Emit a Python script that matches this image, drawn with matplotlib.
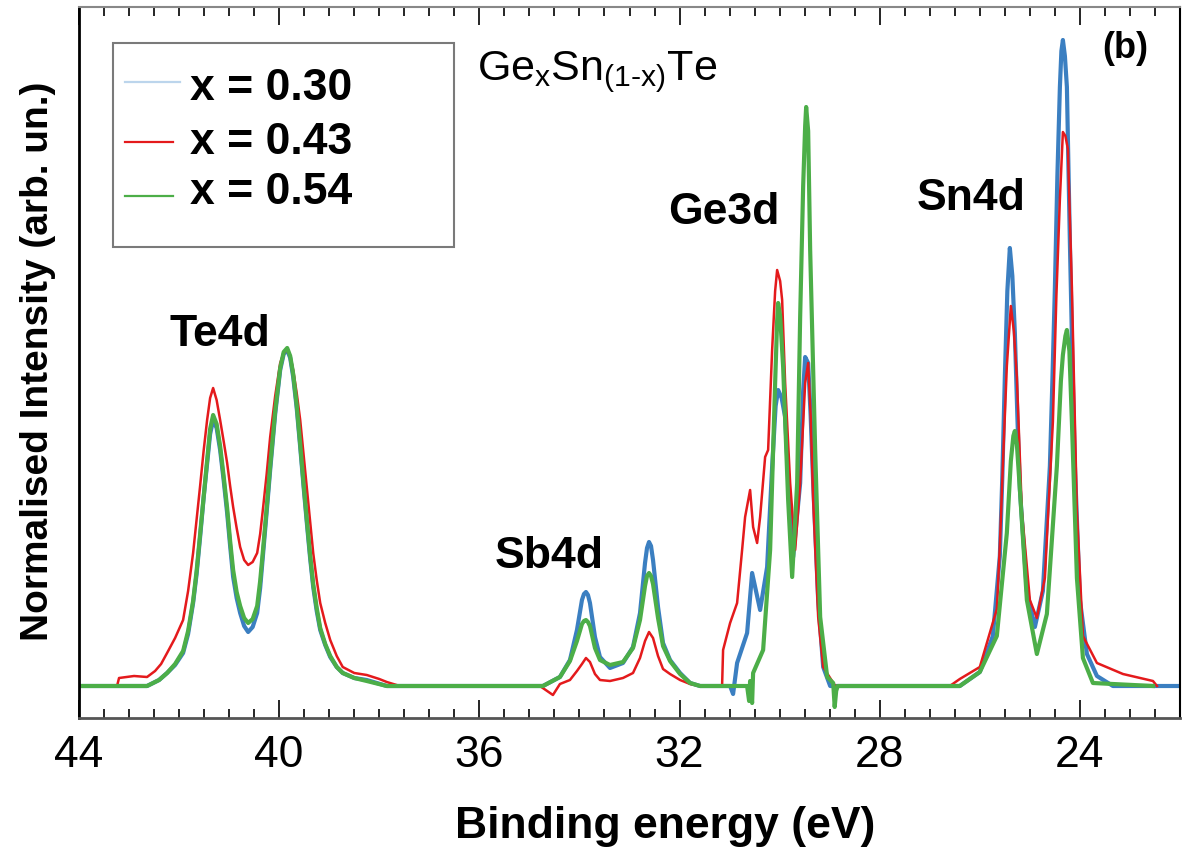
import matplotlib
matplotlib.use('Agg')
import matplotlib.pyplot as plt
from matplotlib.ticker import MultipleLocator
from matplotlib.patches import Rectangle
from matplotlib.lines import Line2D
import numpy as np

plt.rcParams['font.family'] = ['Liberation Sans', 'DejaVu Sans']
plt.rcParams['mathtext.fontset'] = 'custom'
plt.rcParams['mathtext.rm'] = 'Liberation Sans'
plt.rcParams['mathtext.it'] = 'Liberation Sans:italic'
plt.rcParams['mathtext.bf'] = 'Liberation Sans:bold'

# binding energy (eV) / normalised intensity
e_blue = [44.00, 42.64, 42.40, 42.24, 42.08, 41.92, 41.82, 41.72, 41.65, 41.58, 41.51, 41.44,
          41.38, 41.32, 41.25, 41.18, 41.11, 41.04, 40.98, 40.92, 40.85, 40.78, 40.70, 40.62,
          40.53, 40.44, 40.38, 40.32, 40.25, 40.18, 40.08, 39.98, 39.91, 39.84, 39.78, 39.72,
          39.65, 39.58, 39.51, 39.44, 39.38, 39.32, 39.25, 39.18, 39.08, 38.98, 38.85, 38.73,
          38.50, 38.25, 37.85,
          34.73, 34.39, 34.19, 34.05, 33.95, 33.91, 33.87, 33.83, 33.79, 33.69, 33.59, 33.39,
          33.13, 32.93, 32.79, 32.69, 32.65, 32.61, 32.57, 32.53, 32.43, 32.33, 32.19, 31.99,
          31.79, 31.59,
          30.99, 30.93, 30.85, 30.65, 30.55, 30.39, 30.25, 30.15, 30.08, 30.03, 29.96, 29.89,
          29.79, 29.73, 29.59, 29.53, 29.49, 29.43, 29.38, 29.33, 29.23, 29.13, 28.99,
          26.40, 26.00, 25.74, 25.60, 25.55, 25.50, 25.45, 25.40, 25.35, 25.30, 25.25, 25.20,
          25.06, 24.90, 24.74, 24.60, 24.55, 24.50, 24.45, 24.40, 24.37, 24.34, 24.30, 24.26,
          24.20, 24.15, 24.10, 24.00, 23.86, 23.66, 23.34, 22.00]
i_blue = [0.00, 0.00, 0.06, 0.13, 0.21, 0.33, 0.52, 0.83, 1.12, 1.49, 1.88, 2.23,
          2.52, 2.66, 2.58, 2.36, 2.06, 1.73, 1.40, 1.09, 0.88, 0.73, 0.60, 0.54,
          0.59, 0.73, 0.98, 1.33, 1.74, 2.16, 2.72, 3.16, 3.32, 3.36, 3.28, 3.09,
          2.78, 2.39, 1.98, 1.59, 1.27, 0.99, 0.75, 0.56, 0.41, 0.29, 0.19, 0.13,
          0.08, 0.06, 0.00,
          0.00, 0.09, 0.26, 0.56, 0.86, 0.92, 0.94, 0.91, 0.83, 0.49, 0.29, 0.18,
          0.23, 0.39, 0.73, 1.23, 1.38, 1.44, 1.40, 1.26, 0.79, 0.43, 0.26, 0.13,
          0.03, 0.00,
          0.00, -0.08, 0.23, 0.53, 1.13, 0.76, 1.19, 2.19, 2.80, 2.96, 2.88, 2.69,
          1.69, 1.29, 2.03, 2.95, 3.29, 3.23, 2.70, 2.03, 0.86, 0.19, 0.00,
          0.00, 0.14, 0.50, 1.30, 2.10, 3.09, 3.95, 4.38, 4.10, 3.53, 2.70, 1.97,
          0.95, 0.59, 0.95, 2.20, 3.05, 3.98, 5.10, 5.99, 6.35, 6.46, 6.30, 5.99,
          4.43, 3.25, 2.20, 0.86, 0.32, 0.10, 0.00, 0.00]

e_red = [44.00, 43.24, 43.20, 42.90, 42.64, 42.48, 42.36, 42.24, 42.08, 41.92, 41.82, 41.72,
         41.65, 41.58, 41.51, 41.44, 41.38, 41.32, 41.25, 41.18, 41.11, 41.04, 40.98, 40.92,
         40.85, 40.78, 40.70, 40.62, 40.53, 40.44, 40.38, 40.32, 40.25, 40.18, 40.08, 39.98,
         39.91, 39.84, 39.78, 39.72, 39.65, 39.58, 39.51, 39.44, 39.38, 39.32, 39.25, 39.18,
         39.08, 38.98, 38.85, 38.73, 38.50, 38.25, 38.00, 37.85, 37.59,
         34.79, 34.53, 34.39, 34.19, 34.05, 33.95, 33.87, 33.79, 33.69, 33.59, 33.39, 33.13,
         32.93, 32.79, 32.69, 32.61, 32.53, 32.43, 32.33, 32.19, 31.99, 31.79, 31.59,
         31.15, 31.13, 30.99, 30.85, 30.75, 30.69, 30.59, 30.53, 30.45, 30.39, 30.29, 30.23,
         30.15, 30.09, 30.05, 29.99, 29.95, 29.89, 29.79, 29.69, 29.59, 29.49, 29.43, 29.38,
         29.33, 29.23, 29.13, 28.89,
         26.60, 26.40, 26.00, 25.66, 25.60, 25.54, 25.46, 25.38, 25.32, 25.26, 25.16, 25.00,
         24.86, 24.70, 24.54, 24.47, 24.40, 24.34, 24.29, 24.24, 24.16, 24.06, 23.94, 23.66,
         23.14, 22.54, 22.46]
i_red = [0.00, 0.00, 0.08, 0.10, 0.09, 0.15, 0.22, 0.33, 0.48, 0.66, 0.95, 1.33,
         1.66, 2.00, 2.35, 2.66, 2.88, 2.98, 2.86, 2.66, 2.45, 2.23, 2.00, 1.79,
         1.58, 1.39, 1.26, 1.21, 1.24, 1.33, 1.52, 1.79, 2.12, 2.49, 2.90, 3.23,
         3.33, 3.36, 3.30, 3.16, 2.93, 2.66, 2.30, 1.93, 1.62, 1.33, 1.06, 0.83,
         0.63, 0.46, 0.30, 0.19, 0.13, 0.11, 0.07, 0.04, 0.00,
         0.00, -0.09, 0.02, 0.06, 0.15, 0.22, 0.28, 0.24, 0.12, 0.06, 0.05, 0.08,
         0.13, 0.28, 0.45, 0.54, 0.48, 0.30, 0.17, 0.12, 0.06, 0.02, 0.00,
         0.00, 0.36, 0.63, 0.83, 1.36, 1.69, 1.96, 1.59, 1.43, 1.69, 2.29, 2.36,
         3.36, 3.95, 4.16, 4.05, 3.86, 3.03, 2.03, 1.36, 2.03, 3.03, 3.23, 2.70,
         1.86, 0.69, 0.19, 0.00,
         0.00, 0.07, 0.19, 0.77, 1.40, 2.20, 3.20, 3.80, 3.55, 3.09, 1.75, 0.86,
         0.68, 1.08, 2.64, 3.90, 4.87, 5.54, 5.50, 5.37, 3.98, 1.75, 0.50, 0.23,
         0.12, 0.05, 0.00]

e_green = [44.00, 42.64, 42.40, 42.24, 42.08, 41.92, 41.82, 41.72, 41.65, 41.58, 41.51, 41.44,
           41.38, 41.32, 41.25, 41.18, 41.11, 41.04, 40.98, 40.92, 40.85, 40.78, 40.70, 40.62,
           40.53, 40.44, 40.38, 40.32, 40.25, 40.18, 40.08, 39.98, 39.91, 39.84, 39.78, 39.72,
           39.65, 39.58, 39.51, 39.44, 39.38, 39.32, 39.25, 39.18, 39.08, 38.98, 38.85, 38.73,
           38.50, 38.25, 37.85,
           34.73, 34.39, 34.19, 34.05, 33.95, 33.91, 33.87, 33.83, 33.79, 33.69, 33.59, 33.39,
           33.13, 32.93, 32.79, 32.69, 32.65, 32.61, 32.57, 32.53, 32.43, 32.33, 32.19, 31.99,
           31.79, 31.59,
           30.65, 30.61, 30.59, 30.55, 30.53, 30.33, 30.19, 30.09, 30.05, 30.03, 29.99, 29.93,
           29.83, 29.75, 29.65, 29.59, 29.53, 29.49, 29.47, 29.43, 29.39, 29.29, 29.19, 29.05,
           28.93, 28.90, 28.87, 28.84,
           26.40, 26.00, 25.66, 25.46, 25.38, 25.33, 25.30, 25.26, 25.20, 25.06, 24.86, 24.66,
           24.46, 24.38, 24.34, 24.29, 24.26, 24.21, 24.16, 24.06, 23.94, 23.74, 22.54]
i_green = [0.00, 0.00, 0.06, 0.13, 0.22, 0.35, 0.55, 0.85, 1.15, 1.52, 1.90, 2.25,
           2.57, 2.71, 2.62, 2.40, 2.10, 1.78, 1.45, 1.16, 0.94, 0.80, 0.68, 0.63,
           0.67, 0.80, 1.05, 1.38, 1.78, 2.20, 2.75, 3.18, 3.34, 3.38, 3.30, 3.12,
           2.81, 2.42, 2.01, 1.62, 1.30, 1.02, 0.78, 0.58, 0.42, 0.30, 0.19, 0.13,
           0.08, 0.05, 0.00,
           0.00, 0.09, 0.25, 0.45, 0.62, 0.65, 0.66, 0.64, 0.60, 0.38, 0.26, 0.21,
           0.24, 0.38, 0.66, 1.00, 1.10, 1.13, 1.10, 1.02, 0.68, 0.40, 0.25, 0.12,
           0.03, 0.00,
           0.00, -0.15, 0.05, -0.17, 0.13, 0.36, 1.36, 3.03, 3.65, 3.83, 3.70, 3.19,
           1.86, 1.09, 2.03, 3.69, 5.00, 5.60, 5.79, 5.55, 4.36, 2.36, 0.69, 0.09,
           0.03, -0.21, -0.05, 0.00,
           0.00, 0.14, 0.50, 1.53, 2.25, 2.50, 2.55, 2.42, 1.97, 0.86, 0.32, 0.72,
           2.20, 3.05, 3.31, 3.50, 3.56, 3.35, 2.64, 1.08, 0.28, 0.03, 0.00]

labels = ['x = 0.30', 'x = 0.43', 'x = 0.54']
peak_names = ['Te4d', 'Sb4d', 'Ge3d', 'Sn4d']


def fx(px):
    return px / 1188.0


def fy(py):
    return 1 - py / 858.0


fig = plt.figure(figsize=(11.88, 8.58), dpi=100, facecolor='w')
ax = fig.add_axes([fx(79), fy(718), fx(1180) - fx(79), fy(7) - fy(718)])

ax.plot(e_blue, i_blue, color='#3b7fc1', lw=3.0, solid_joinstyle='round')
ax.plot(e_red, i_red, color='#e41a1c', lw=1.8, solid_joinstyle='round')
ax.plot(e_green, i_green, color='#4cae48', lw=3.0, solid_joinstyle='round')

ax.set_xlim(44, 22)
ax.set_ylim(-0.32, 6.79)
ax.set_yticks([])
ax.set_xticks([44, 40, 36, 32, 28, 24])
ax.xaxis.set_minor_locator(MultipleLocator(0.5))
ax.tick_params(axis='x', which='both', direction='in', top=True, labeltop=False, color='k')
ax.tick_params(axis='x', which='major', length=13, width=1.2, labelsize=32, pad=12)
ax.tick_params(axis='x', which='minor', length=6.5, width=1.2)

ax.spines['left'].set_linewidth(2)
ax.spines['right'].set_linewidth(1.5)
ax.spines['bottom'].set_linewidth(2)
ax.spines['bottom'].set_color('#555555')
ax.spines['top'].set_linewidth(1.5)
ax.spines['top'].set_color('#888888')

ax.set_xlabel('Binding energy (eV)', fontsize=32, fontweight='bold')
ax.xaxis.set_label_coords((665 - 79) / 1101.0, (718 - 806) / 711.0)
ax.set_ylabel('Normalised Intensity (arb. un.)', fontsize=28, fontweight='bold')
ax.yaxis.set_label_coords((56 - 79) / 1101.0, (718 - 361) / 711.0)

# legend box
ax.add_patch(Rectangle((fx(113), fy(247)), fx(454) - fx(113), fy(43) - fy(247),
                       transform=fig.transFigure, facecolor='w', edgecolor='#7a7a7a',
                       lw=1.5, clip_on=False, zorder=5))
leg_colors = ['#bcd5ec', '#e41a1c', '#4cae48']
leg_line_y = [82, 142, 196]
leg_text_y = [89, 143, 193]
leg_line_end = [180, 173, 173]
for k in range(3):
    fig.add_artist(Line2D([fx(125), fx(leg_line_end[k])], [fy(leg_line_y[k])] * 2,
                          color=leg_colors[k], lw=1.6, zorder=6))
    fig.text(fx(190), fy(leg_text_y[k]), labels[k], fontsize=32, fontweight='bold',
             va='center', ha='left', zorder=6)

fig.text(fx(477), fy(80), r'Ge$_{\mathrm{x}}$Sn$_{\mathrm{(1\text{-}x)}}$Te', fontsize=31,
         va='baseline', ha='left')
fig.text(fx(1125), fy(48), '(b)', fontsize=26, fontweight='bold', ha='center', va='center')

peak_x = [220, 549, 724, 971]
peak_y = [335, 556, 213, 199]
for name, px, py in zip(peak_names, peak_x, peak_y):
    fig.text(fx(px), fy(py), name, fontsize=32, fontweight='bold', ha='center', va='center')

fig.savefig('out.png', dpi=100)
